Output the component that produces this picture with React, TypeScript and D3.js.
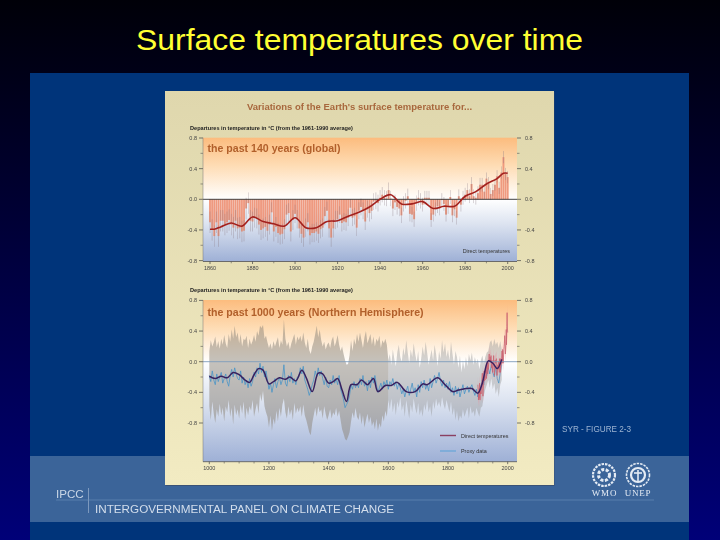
import React from "react";
import * as d3 from "d3";

const annualYears = d3.range(1860, 2001);
const annualTemp = [
  -30,-40,-48,-30,-48,-28,-28,-33,-30,-27,
  -33,-37,-28,-38,-37,-42,-41,-12,-5,-28,
  -29,-24,-25,-33,-40,-38,-36,-41,-33,-17,
  -42,-36,-44,-46,-45,-39,-20,-18,-42,-27,
  -19,-26,-38,-45,-50,-37,-30,-47,-44,-44,
  -42,-45,-39,-37,-22,-15,-38,-50,-38,-27,
  -26,-20,-31,-29,-30,-24,-11,-24,-22,-37,
  -15,-10,-15,-29,-13,-18,-15,-3,-2,-5,
  2,6,2,1,12,1,-12,-4,-10,-12,
  -21,-6,-2,4,-19,-20,-26,-5,2,-2,
  -7,2,2,2,-27,-20,-13,-9,-12,-1,
  -6,-20,-10,3,-21,-13,-24,4,-7,2,
  6,12,4,20,4,2,8,19,19,10,
  27,21,7,12,19,30,15,35,55,33,
  29,
];
const annualUncertainty = [14, 14, 13, 13, 12, 12, 11, 11, 10, 10, 9, 9, 9, 8, 8];

const smoothYears140 = [1860,1862,1865,1870,1875,1880,1885,1890,1895,1900,1905,1910,1915,1920,1925,1930,1935,1940,1945,1950,1955,1960,1965,1970,1975,1980,1985,1990,1995,1998,2000];
const smoothTemp140 = [-39,-39,-36,-31,-35,-23,-29,-32,-35,-24,-37,-37,-29,-28,-22,-17,-10,0,6,-6,-6,-3,-12,-9,-9,4,10,20,27,34,34];

const proxyUpper = [
  14,28,20,25,33,19,27,17,30,22,35,24,18,36,26,42,30,47,32,38,
  24,36,20,30,28,34,18,30,22,27,35,26,40,34,47,44,48,30,34,25,
  18,24,16,27,20,26,32,18,28,22,55,30,20,26,16,24,30,36,22,33,
  28,34,26,38,25,18,30,15,10,20,26,36,47,32,42,28,20,26,16,22,
  25,18,28,33,20,26,35,22,14,20,10,2,-4,-3,8,28,14,30,22,36,
  26,38,28,18,32,40,24,30,36,22,33,20,30,26,34,18,28,24,30,22,
  2,10,-4,16,4,-6,12,22,6,0,18,8,28,12,-2,16,6,24,10,0,
  14,-8,4,20,8,26,12,-4,6,16,2,22,10,-6,14,4,28,12,24,6,
  16,2,26,10,-4,14,6,-8,8,-14,2,-10,6,-6,10,2,12,-4,6,-2,
  4,-10,2,8,-2,6,12,14,25,28,20,30,22,26,18,27,16,
];
const proxyLower = [
  -58,-76,-52,-68,-80,-62,-72,-55,-70,-60,-78,-58,-66,-50,-72,-60,-82,-56,-70,-62,
  -74,-56,-68,-52,-76,-60,-70,-58,-64,-50,-72,-62,-54,-68,-42,-52,-38,-58,-66,-72,
  -86,-70,-90,-74,-82,-64,-78,-60,-72,-56,-48,-66,-74,-58,-70,-62,-76,-54,-68,-60,
  -66,-58,-72,-56,-70,-76,-84,-92,-96,-80,-70,-60,-72,-58,-66,-62,-74,-58,-68,-76,
  -70,-62,-74,-66,-70,-60,-72,-64,-76,-88,-94,-101,-103,-98,-92,-78,-66,-74,-60,-72,
  -76,-66,-82,-70,-86,-76,-68,-80,-72,-84,-78,-88,-74,-90,-80,-86,-70,-78,-64,-72,
  -50,-62,-48,-66,-54,-70,-52,-60,-46,-64,-56,-72,-50,-62,-74,-56,-66,-48,-60,-68,
  -54,-70,-62,-72,-56,-64,-50,-66,-58,-72,-52,-62,-48,-58,-52,-60,-46,-56,-62,-50,
  -58,-66,-52,-70,-60,-76,-64,-78,-70,-74,-62,-72,-66,-60,-74,-58,-68,-64,-72,-60,
  -66,-72,-60,-58,-44,-36,-30,-24,-34,-22,-36,-28,-42,-34,-46,-30,-24,
];
const proxyTemp = [
  -18,-26,-12,-24,-30,-16,-26,-20,-14,-28,-22,-16,-26,-32,-18,-10,-20,-8,-16,-22,
  -24,-12,-28,-20,-30,-24,-34,-22,-32,-26,-14,-20,-8,-16,-2,-14,-6,-20,-12,-24,
  -36,-28,-40,-30,-22,-34,-26,-20,-30,-24,-4,-28,-32,-18,-26,-14,-28,-22,-30,-20,
  -20,-8,-16,-6,-24,-30,-36,-44,-38,-30,-24,-12,-20,-8,-18,-12,-22,-30,-20,-32,
  -34,-24,-30,-18,-28,-22,-30,-18,-36,-42,-50,-60,-56,-52,-44,-30,-36,-26,-34,-28,
  -34,-22,-30,-18,-32,-26,-38,-24,-34,-20,-28,-18,-30,-40,-34,-28,-36,-26,-32,-24,
  -36,-26,-30,-22,-32,-26,-36,-28,-34,-42,-36,-46,-38,-32,-44,-36,-28,-40,-34,-46,
  -30,-40,-26,-34,-24,-36,-30,-38,-22,-34,-26,-18,-28,-22,-14,-26,-32,-24,-34,-28,
  -36,-26,-40,-34,-44,-32,-42,-34,-46,-38,-30,-42,-36,-32,-40,-34,-30,-38,-44,-36,
  -46,-38,-32,-24,-30,-12,-18,-8,-16,-4,-14,-20,-6,-22,-28,-14,-4,
];
const directYearsNH = d3.range(1900, 2001);
const directTempNH = [
  -30,-38,-50,-42,-48,-35,-28,-50,-38,-42,
  -40,-42,-38,-30,-20,-15,-35,-45,-38,-28,
  -22,-12,-25,-18,-24,-15,-8,-14,-5,-22,
  -8,0,-4,-16,-2,-10,-4,6,10,4,
  0,6,4,0,8,-2,-8,2,-2,-8,
  -14,-4,0,8,-6,-10,-18,-4,2,0,
  -2,2,4,0,-18,-16,-8,-4,-10,-6,
  0,-8,-14,4,-8,-4,-14,4,-4,-2,
  4,14,-2,16,4,-2,6,16,20,24,
  34,26,10,14,22,42,22,46,64,44,
  38,
];
const smoothYears1000 = [1000,1020,1040,1060,1080,1100,1120,1135,1150,1165,1180,1200,1215,1235,1255,1270,1290,1310,1325,1345,1365,1380,1400,1415,1430,1445,1460,1475,1495,1510,1530,1550,1565,1590,1610,1630,1660,1690,1715,1730,1765,1790,1815,1835,1860,1880,1900,1915,1935,1950,1965,1980];
const smoothTemp1000 = [-19,-22,-19,-21,-14,-17,-24,-27,-17,-9,-11,-29,-26,-21,-23,-20,-25,-11,-21,-39,-15,-16,-28,-26,-22,-37,-52,-30,-30,-24,-30,-22,-39,-31,-31,-27,-39,-39,-29,-30,-21,-30,-39,-37,-35,-35,-41,-28,1,-2,-9,3];

const tempTicks = [0.8, 0.4, 0, -0.4, -0.8];
const minorTempTicks = [0.6, 0.2, -0.2, -0.6];
const yearLabels140 = [1860, 1880, 1900, 1920, 1940, 1960, 1980, 2000];
const yearLabels1000 = [1000, 1200, 1400, 1600, 1800, 2000];
const minorYears1000 = [1050,1100,1150,1250,1300,1350,1450,1500,1550,1650,1700,1750,1850,1900,1950];
const minorYears140 = [1870,1890,1910,1930,1950,1970,1990];

const FONT = "'Liberation Sans', Arial, sans-serif";
const proxyYear = (i: number) => 1000 + i * 5;

type PanelProps = {
  id: string; top: number; bottom: number; zeroY: number;
  xDomain: [number, number]; labels: number[]; minors: number[];
  caption: string; captionY: number; headerY: number;
  render: (x: d3.ScaleLinear<number, number>, y: d3.ScaleLinear<number, number>) => React.ReactNode;
};

function Panel({ id, top, bottom, zeroY, xDomain, labels, minors, caption, captionY, headerY, render }: PanelProps) {
  const left = 203, right = 517;
  const x = d3.scaleLinear().domain(xDomain).range([xDomain[0] === 1860 ? 210 : 209.3, 507.7]);
  const y = d3.scaleLinear().domain([0, 0.8]).range([zeroY, zeroY - 61.3]);
  const zf = (zeroY - top) / (bottom - top);
  return (
    <g>
      <defs>
        <linearGradient id={id} x1="0" x2="0" y1="0" y2="1">
          <stop offset="0" stopColor="#fcbc7e" />
          <stop offset={zf * 0.45} stopColor="#fedcb4" />
          <stop offset={zf} stopColor="#ffffff" />
          <stop offset={zf + (1 - zf) * 0.4} stopColor="#dce3f0" />
          <stop offset="1" stopColor="#9eb0d6" />
        </linearGradient>
      </defs>
      <text x={190} y={headerY} fontFamily={FONT} fontSize={5.6} fontWeight="bold" fill="#222">Departures in temperature in °C (from the 1961-1990 average)</text>
      <rect x={left} y={top} width={right - left} height={bottom - top} fill={`url(#${id})`} />
      {render(x, y)}
      {tempTicks.map((t) => (
        <g key={t}>
          <line x1={left - 4} x2={left} y1={y(t)} y2={y(t)} stroke="#444" strokeWidth={0.7} />
          <line x1={right} x2={right + 4} y1={y(t)} y2={y(t)} stroke="#444" strokeWidth={0.7} />
          <text x={left - 6} y={y(t) + 2} textAnchor="end" fontFamily={FONT} fontSize={5.5} fill="#444">{t.toFixed(1)}</text>
          <text x={right + 8} y={y(t) + 2} fontFamily={FONT} fontSize={5.5} fill="#444">{t.toFixed(1)}</text>
        </g>
      ))}
      {minorTempTicks.map((t) => (
        <g key={t}>
          <line x1={left - 2.5} x2={left} y1={y(t)} y2={y(t)} stroke="#555" strokeWidth={0.6} />
          <line x1={right} x2={right + 2.5} y1={y(t)} y2={y(t)} stroke="#555" strokeWidth={0.6} />
        </g>
      ))}
      <line x1={left} x2={left} y1={top} y2={bottom} stroke="#777" strokeWidth={0.5} />
      <line x1={left} x2={right} y1={bottom} y2={bottom} stroke="#444" strokeWidth={0.7} />
      {labels.map((l) => (
        <g key={l}>
          <line x1={x(l)} x2={x(l)} y1={bottom} y2={bottom + 2.5} stroke="#444" strokeWidth={0.7} />
          <text x={x(l)} y={bottom + 8} textAnchor="middle" fontFamily={FONT} fontSize={5.5} fill="#444">{l}</text>
        </g>
      ))}
      {minors.map((l) => <line key={l} x1={x(l)} x2={x(l)} y1={bottom} y2={bottom + 1.8} stroke="#555" strokeWidth={0.6} />)}
      <text x={207.5} y={captionY} fontFamily={FONT} fontSize={10.6} fontWeight="bold" fill="#b2602c">{caption}</text>
    </g>
  );
}

export default function App() {
  const v = (n: number) => n / 100;
  return (
    <svg width={720} height={540} viewBox="0 0 720 540" style={{ position: "absolute", left: 0, top: 0, display: "block" }}>
      <defs>
        <linearGradient id="page" x1="0" x2="0" y1="0" y2="1">
          <stop offset="0" stopColor="#000008" />
          <stop offset="1" stopColor="#000078" />
        </linearGradient>
        <linearGradient id="cream" x1="0" x2="0" y1="0" y2="1">
          <stop offset="0" stopColor="#dfd7ad" />
          <stop offset="1" stopColor="#f2ebc2" />
        </linearGradient>
        <filter id="soft" x="0" y="0" width="1" height="1"><feGaussianBlur stdDeviation="0.5" /></filter>
        <filter id="softer" x="-0.02" y="-0.2" width="1.04" height="1.4"><feGaussianBlur stdDeviation="0.35" /></filter>
      </defs>
      <rect width={720} height={540} fill="url(#page)" />
      <text x={359.5} y={50} textAnchor="middle" fontFamily={FONT} fontSize={29.3} fill="#ffff33" textLength={447} lengthAdjust="spacingAndGlyphs">Surface temperatures over time</text>
      <rect x={30} y={73} width={659} height={467} fill="#00347a" />
      <rect x={30} y={456} width={659} height={66} fill="#3b6499" />
      <g filter="url(#softer)">
        <text x={562} y={432} fontFamily={FONT} fontSize={8.2} fill="#9db4d2">SYR - FIGURE 2-3</text>
        <text x={56} y={497.5} fontFamily={FONT} fontSize={11.6} fill="#c8d5e6">IPCC</text>
        <line x1={88.5} x2={88.5} y1={488} y2={513} stroke="#a9bdd6" strokeWidth={0.6} />
        <line x1={56} x2={654} y1={500} y2={500} stroke="#6d90bb" strokeWidth={0.6} />
        <text x={95} y={513} fontFamily={FONT} fontSize={11.7} fill="#d3deec">INTERGOVERNMENTAL PANEL ON CLIMATE CHANGE</text>
      </g>
      <g filter="url(#softer)" fill="none" stroke="#e4ebf4">
        <circle cx={604} cy={475} r={11} strokeWidth={2.2} strokeDasharray="2.5 1" />
        <circle cx={604} cy={475} r={5.5} strokeWidth={3} strokeDasharray="3 1.5" />
        <circle cx={638} cy={475} r={11.5} strokeWidth={1.6} strokeDasharray="2.5 1" />
        <circle cx={638} cy={475} r={7} strokeWidth={2.2} />
        <line x1={638} x2={638} y1={470} y2={482} strokeWidth={1.6} />
        <line x1={634} x2={642} y1={473} y2={473} strokeWidth={1.6} />
        <text x={604.5} y={496} textAnchor="middle" fontFamily="'Liberation Serif', serif" fontSize={9} fill="#e4ebf4" stroke="none" letterSpacing={0.8}>WMO</text>
        <text x={638} y={496} textAnchor="middle" fontFamily="'Liberation Serif', serif" fontSize={9} fill="#e4ebf4" stroke="none" letterSpacing={0.8}>UNEP</text>
      </g>
      <rect x={165.5} y={92} width={389} height={394} fill="#3a4a66" opacity={0.7} />
      <g filter="url(#soft)">
        <rect x={165} y={91} width={389} height={394} fill="url(#cream)" />
        <text x={359.5} y={110} textAnchor="middle" fontFamily={FONT} fontSize={9.5} fontWeight="bold" fill="#a8683e">Variations of the Earth's surface temperature for...</text>
        <Panel
          id="g140" top={137.7} bottom={261.5} zeroY={199.3} xDomain={[1860, 2000]}
          labels={yearLabels140} minors={minorYears140} caption="the past 140 years (global)" captionY={152} headerY={130}
          render={(x, y) => {
            const smooth = d3.line<number>().x((d) => x(d)).y((_, i) => y(v(smoothTemp140[i]))).curve(d3.curveCatmullRom);
            return (
              <g>
                {annualYears.map((yr, i) => (
                  <rect key={yr} x={x(yr) - 0.95} width={1.9} y={Math.min(y(v(annualTemp[i])), y(0))} height={Math.abs(y(v(annualTemp[i])) - y(0))} fill="#ee9478" opacity={0.95} />
                ))}
                {annualYears.map((yr, i) => {
                  const u = annualUncertainty[Math.floor((yr - 1860) / 10)] ?? 8;
                  return <line key={yr} x1={x(yr)} x2={x(yr)} y1={y(v(annualTemp[i] - u))} y2={y(v(annualTemp[i] + u))} stroke="#8a7a84" strokeWidth={0.5} opacity={0.7} />;
                })}
                <line x1={203} x2={517} y1={y(0)} y2={y(0)} stroke="#2c2c2c" strokeWidth={0.9} />
                <path d={smooth(smoothYears140) ?? ""} fill="none" stroke="#a3201f" strokeWidth={1.6} />
                <text x={510} y={253} textAnchor="end" fontFamily={FONT} fontSize={5.4} fill="#333">Direct temperatures</text>
              </g>
            );
          }}
        />
        <Panel
          id="g1000" top={300} bottom={461.7} zeroY={361.7} xDomain={[1000, 2000]}
          labels={yearLabels1000} minors={minorYears1000} caption="the past 1000 years (Northern Hemisphere)" captionY={316} headerY={292}
          render={(x, y) => {
            const band = d3.area<number>().x((_, i) => x(proxyYear(i))).y0((_, i) => y(v(proxyLower[i]))).y1((d) => y(v(d)));
            const bandLate = d3.area<number>().x((_, i) => x(proxyYear(i + 120))).y0((_, i) => y(v(proxyLower[i + 120]))).y1((d) => y(v(d)));
            const proxy = d3.line<number>().x((_, i) => x(proxyYear(i))).y((d) => y(v(d)));
            const direct = d3.line<number>().x((_, i) => x(directYearsNH[i])).y((d) => y(v(d)));
            const directBand = d3.area<number>().x((_, i) => x(directYearsNH[i])).y0((d) => y(v(d - 10))).y1((d) => y(v(d + 10)));
            const smooth = d3.line<number>().x((d) => x(d)).y((_, i) => y(v(smoothTemp1000[i]))).curve(d3.curveCatmullRom);
            return (
              <g>
                <path d={band(proxyUpper.slice(0, 121)) ?? ""} fill="#8c8478" opacity={0.5} />
                <path d={bandLate(proxyUpper.slice(120)) ?? ""} fill="#8c8c8c" opacity={0.38} />
                <path d={proxy(proxyTemp) ?? ""} fill="none" stroke="#4a94c6" strokeWidth={0.8} />
                <path d={directBand(directTempNH) ?? ""} fill="#e98f98" opacity={0.4} />
                <path d={direct(directTempNH) ?? ""} fill="none" stroke="#c8606e" strokeWidth={0.8} opacity={0.9} />
                <line x1={203} x2={517} y1={y(0)} y2={y(0)} stroke="#7f9dbb" strokeWidth={0.9} />
                <path d={smooth(smoothYears1000) ?? ""} fill="none" stroke="#38205f" strokeWidth={1.5} />
                <line x1={440} x2={456} y1={435.5} y2={435.5} stroke="#8a3f62" strokeWidth={1.4} />
                <text x={461} y={437.5} fontFamily={FONT} fontSize={5.4} fill="#333">Direct temperatures</text>
                <line x1={440} x2={456} y1={451} y2={451} stroke="#6fa8d8" strokeWidth={1.4} />
                <text x={461} y={453} fontFamily={FONT} fontSize={5.4} fill="#333">Proxy data</text>
              </g>
            );
          }}
        />
      </g>
    </svg>
  );
}
